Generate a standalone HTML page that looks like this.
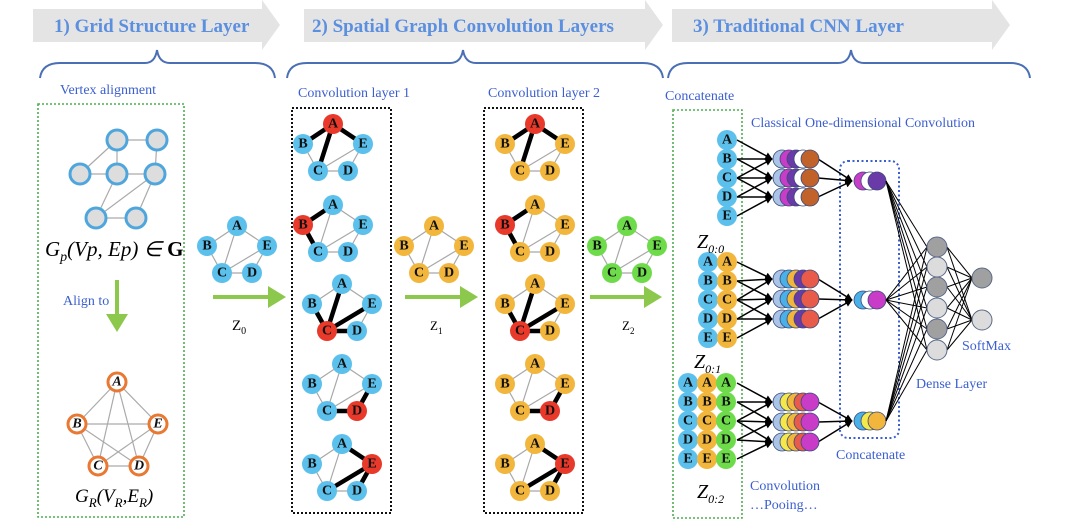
<!DOCTYPE html>
<html><head><meta charset="utf-8"><style>
body{margin:0;background:#fff}
svg{display:block;font-family:"Liberation Serif",serif}
.t{stroke:#a8a8a8;stroke-width:1.2}
.k{stroke:#000;stroke-width:4.5;stroke-linecap:round}
.b{fill:#5bc0ec}.y{fill:#f2b63c}.g{fill:#6edc4a}.r{fill:#e8392a}
.l{font-weight:bold;font-size:14px;text-anchor:middle;dominant-baseline:central;fill:#111}
.bl{fill:#3b5fd0;font-size:14px}
.a{stroke:#000;stroke-width:1.5;marker-end:url(#ah)}
.f{stroke:#000;stroke-width:1}
</style></head><body>
<svg width="1080" height="529" viewBox="0 0 1080 529" xmlns="http://www.w3.org/2000/svg">
<defs>
<marker id="ah" viewBox="0 0 10 10" refX="9" refY="5" markerWidth="5" markerHeight="5" orient="auto"><path d="M0,0L10,5L0,10z" fill="#000"/></marker>
<g id="ed">
<line class="t" x1="30" y1="0" x2="0" y2="20"/><line class="t" x1="30" y1="0" x2="60" y2="20"/><line class="t" x1="30" y1="0" x2="15" y2="47"/><line class="t" x1="0" y1="20" x2="15" y2="47"/><line class="t" x1="15" y1="47" x2="45" y2="47"/><line class="t" x1="15" y1="47" x2="60" y2="20"/><line class="t" x1="45" y1="47" x2="60" y2="20"/>
</g>
</defs>
<!-- header arrows -->
<polygon points="33,9 262,9 262,0 280,25 262,50 262,42 33,42" fill="#e4e4e4"/>
<polygon points="304,9 645,9 645,0 663,25 645,50 645,42 304,42" fill="#e4e4e4"/>
<polygon points="672,9 992,9 992,0 1010,25 992,50 992,42 672,42" fill="#e4e4e4"/>
<g font-weight="bold" font-size="19" fill="#5b8fe0">
<text x="54" y="32">1) Grid Structure Layer</text>
<text x="312" y="32">2) Spatial Graph Convolution Layers</text>
<text x="693" y="32">3) Traditional CNN Layer</text>
</g>
<!-- braces -->
<g fill="none" stroke="#4a6fb5" stroke-width="2">
<path d="M40,78 Q42,63 60,63 L145,63 Q155,63 157,50 Q159,63 170,63 L255,63 Q273,63 275,78"/>
<path d="M287,78 Q289,63 307,63 L450,63 Q461,63 463,50 Q465,63 476,63 L643,63 Q661,63 663,78"/>
<path d="M668,78 Q670,63 688,63 L838,63 Q849,63 851,50 Q853,63 864,63 L1010,63 Q1028,63 1030,78"/>
</g>
<!-- left box -->
<rect x="38" y="104" width="146" height="413" fill="none" stroke="#4caf50" stroke-width="1.6" stroke-dasharray="2,2"/>
<text class="bl" x="60" y="94">Vertex alignment</text>
<g stroke="#aaa" stroke-width="1.2">
<line x1="117" y1="140" x2="157" y2="140"/><line x1="117" y1="140" x2="80" y2="174"/><line x1="117" y1="140" x2="117" y2="174"/><line x1="157" y1="140" x2="155" y2="174"/><line x1="80" y1="174" x2="117" y2="174"/><line x1="117" y1="174" x2="155" y2="174"/><line x1="117" y1="174" x2="96" y2="218"/><line x1="155" y1="174" x2="96" y2="218"/><line x1="155" y1="174" x2="136" y2="218"/><line x1="96" y1="218" x2="136" y2="218"/>
</g>
<g fill="#ddd" stroke="#4ea6dc" stroke-width="3">
<circle cx="117" cy="140" r="10"/><circle cx="157" cy="140" r="10"/><circle cx="80" cy="174" r="10"/><circle cx="117" cy="174" r="10"/><circle cx="155" cy="174" r="10"/><circle cx="96" cy="218" r="10"/><circle cx="136" cy="218" r="10"/>
</g>
<text x="45" y="256" font-size="21" font-style="italic">G<tspan font-size="14" dy="5">p</tspan><tspan dy="-5">(Vp, Ep) ∈ </tspan><tspan font-weight="bold" font-style="normal">G</tspan></text>
<line x1="117" y1="280" x2="117" y2="318" stroke="#8cc84b" stroke-width="4"/>
<polygon points="106,314 128,314 117,332" fill="#8cc84b"/>
<text class="bl" x="63" y="305">Align to</text>
<g stroke="#aaa" stroke-width="1.2">
<line x1="117" y1="382" x2="77" y2="424"/><line x1="117" y1="382" x2="158" y2="424"/><line x1="117" y1="382" x2="98" y2="466"/><line x1="117" y1="382" x2="139" y2="466"/><line x1="77" y1="424" x2="158" y2="424"/><line x1="77" y1="424" x2="98" y2="466"/><line x1="77" y1="424" x2="139" y2="466"/><line x1="158" y1="424" x2="98" y2="466"/><line x1="158" y1="424" x2="139" y2="466"/><line x1="98" y1="466" x2="139" y2="466"/>
</g>
<g fill="#fff" stroke="#e87832" stroke-width="3">
<circle cx="117" cy="382" r="9"/><circle cx="77" cy="424" r="9"/><circle cx="158" cy="424" r="9"/><circle cx="98" cy="466" r="9"/><circle cx="139" cy="466" r="9"/>
</g>
<g class="l" font-style="italic" font-size="12">
<text class="l" x="117" y="382">A</text><text class="l" x="77" y="424">B</text><text class="l" x="158" y="424">E</text><text class="l" x="98" y="466">C</text><text class="l" x="139" y="466">D</text>
</g>
<text x="75" y="502" font-size="19" font-style="italic">G<tspan font-size="13" dy="5">R</tspan><tspan dy="-5">(V</tspan><tspan font-size="13" dy="5">R</tspan><tspan dy="-5">,E</tspan><tspan font-size="13" dy="5">R</tspan><tspan dy="-5">)</tspan></text>

<!-- Z0 graph -->
<g transform="translate(207,226)"><g style="--c:#5bc0ec"><use href="#ed" style="stroke:#5bc0ec"/></g>
<circle class="b" cx="30" cy="0" r="10"/><circle class="b" cx="0" cy="20" r="10"/><circle class="b" cx="60" cy="20" r="10"/><circle class="b" cx="15" cy="47" r="10"/><circle class="b" cx="45" cy="47" r="10"/>
<text class="l" x="30" y="0">A</text><text class="l" x="0" y="20">B</text><text class="l" x="60" y="20">E</text><text class="l" x="15" y="47">C</text><text class="l" x="45" y="47">D</text></g>
<line x1="213" y1="297" x2="272" y2="297" stroke="#8cc84b" stroke-width="4"/><polygon points="268,286 286,297 268,308" fill="#8cc84b"/>
<text x="232" y="330" font-size="15">Z<tspan font-size="10" dy="4">0</tspan></text>
<!-- Z1 graph -->
<g transform="translate(404,226)"><use href="#ed"/>
<circle class="y" cx="30" cy="0" r="10"/><circle class="y" cx="0" cy="20" r="10"/><circle class="y" cx="60" cy="20" r="10"/><circle class="y" cx="15" cy="47" r="10"/><circle class="y" cx="45" cy="47" r="10"/>
<text class="l" x="30" y="0">A</text><text class="l" x="0" y="20">B</text><text class="l" x="60" y="20">E</text><text class="l" x="15" y="47">C</text><text class="l" x="45" y="47">D</text></g>
<line x1="405" y1="297" x2="464" y2="297" stroke="#8cc84b" stroke-width="4"/><polygon points="460,286 478,297 460,308" fill="#8cc84b"/>
<text x="430" y="330" font-size="13">Z<tspan font-size="9" dy="4">1</tspan></text>
<!-- Z2 graph -->
<g transform="translate(597,226)"><use href="#ed"/>
<circle class="g" cx="30" cy="0" r="10"/><circle class="g" cx="0" cy="20" r="10"/><circle class="g" cx="60" cy="20" r="10"/><circle class="g" cx="15" cy="47" r="10"/><circle class="g" cx="45" cy="47" r="10"/>
<text class="l" x="30" y="0">A</text><text class="l" x="0" y="20">B</text><text class="l" x="60" y="20">E</text><text class="l" x="15" y="47">C</text><text class="l" x="45" y="47">D</text></g>
<line x1="590" y1="297" x2="648" y2="297" stroke="#8cc84b" stroke-width="4"/><polygon points="644,286 662,297 644,308" fill="#8cc84b"/>
<text x="622" y="330" font-size="13">Z<tspan font-size="9" dy="4">2</tspan></text>

<!-- conv layer boxes -->
<rect x="292" y="108" width="99" height="405" fill="none" stroke="#111" stroke-width="2" stroke-dasharray="2,2"/>
<rect x="484" y="108" width="99" height="405" fill="none" stroke="#111" stroke-width="2" stroke-dasharray="2,2"/>
<text class="bl" x="298" y="97">Convolution layer 1</text>
<text class="bl" x="488" y="97">Convolution layer 2</text>

<!-- layer 1 graphs (blue) -->
<g transform="translate(303,124)"><use href="#ed"/><line class="k" x1="30" y1="0" x2="0" y2="20"/><line class="k" x1="30" y1="0" x2="60" y2="20"/><line class="k" x1="30" y1="0" x2="15" y2="47"/>
<circle class="r" cx="30" cy="0" r="10"/><circle class="b" cx="0" cy="20" r="10"/><circle class="b" cx="60" cy="20" r="10"/><circle class="b" cx="15" cy="47" r="10"/><circle class="b" cx="45" cy="47" r="10"/>
<text class="l" x="30" y="0">A</text><text class="l" x="0" y="20">B</text><text class="l" x="60" y="20">E</text><text class="l" x="15" y="47">C</text><text class="l" x="45" y="47">D</text></g>
<g transform="translate(303,205)"><use href="#ed"/><line class="k" x1="0" y1="20" x2="30" y2="0"/><line class="k" x1="0" y1="20" x2="15" y2="47"/>
<circle class="b" cx="30" cy="0" r="10"/><circle class="r" cx="0" cy="20" r="10"/><circle class="b" cx="60" cy="20" r="10"/><circle class="b" cx="15" cy="47" r="10"/><circle class="b" cx="45" cy="47" r="10"/>
<text class="l" x="30" y="0">A</text><text class="l" x="0" y="20">B</text><text class="l" x="60" y="20">E</text><text class="l" x="15" y="47">C</text><text class="l" x="45" y="47">D</text></g>
<g transform="translate(312,284)"><use href="#ed"/><line class="k" x1="15" y1="47" x2="30" y2="0"/><line class="k" x1="15" y1="47" x2="0" y2="20"/><line class="k" x1="15" y1="47" x2="45" y2="47"/><line class="k" x1="15" y1="47" x2="60" y2="20"/>
<circle class="b" cx="30" cy="0" r="10"/><circle class="b" cx="0" cy="20" r="10"/><circle class="b" cx="60" cy="20" r="10"/><circle class="r" cx="15" cy="47" r="10"/><circle class="b" cx="45" cy="47" r="10"/>
<text class="l" x="30" y="0">A</text><text class="l" x="0" y="20">B</text><text class="l" x="60" y="20">E</text><text class="l" x="15" y="47">C</text><text class="l" x="45" y="47">D</text></g>
<g transform="translate(312,364)"><use href="#ed"/><line class="k" x1="45" y1="47" x2="15" y2="47"/><line class="k" x1="45" y1="47" x2="60" y2="20"/>
<circle class="b" cx="30" cy="0" r="10"/><circle class="b" cx="0" cy="20" r="10"/><circle class="b" cx="60" cy="20" r="10"/><circle class="b" cx="15" cy="47" r="10"/><circle class="r" cx="45" cy="47" r="10"/>
<text class="l" x="30" y="0">A</text><text class="l" x="0" y="20">B</text><text class="l" x="60" y="20">E</text><text class="l" x="15" y="47">C</text><text class="l" x="45" y="47">D</text></g>
<g transform="translate(312,444)"><use href="#ed"/><line class="k" x1="60" y1="20" x2="30" y2="0"/><line class="k" x1="60" y1="20" x2="15" y2="47"/><line class="k" x1="60" y1="20" x2="45" y2="47"/>
<circle class="b" cx="30" cy="0" r="10"/><circle class="b" cx="0" cy="20" r="10"/><circle class="r" cx="60" cy="20" r="10"/><circle class="b" cx="15" cy="47" r="10"/><circle class="b" cx="45" cy="47" r="10"/>
<text class="l" x="30" y="0">A</text><text class="l" x="0" y="20">B</text><text class="l" x="60" y="20">E</text><text class="l" x="15" y="47">C</text><text class="l" x="45" y="47">D</text></g>

<!-- layer 2 graphs (yellow) -->
<g transform="translate(505,124)"><use href="#ed"/><line class="k" x1="30" y1="0" x2="0" y2="20"/><line class="k" x1="30" y1="0" x2="60" y2="20"/><line class="k" x1="30" y1="0" x2="15" y2="47"/>
<circle class="r" cx="30" cy="0" r="10"/><circle class="y" cx="0" cy="20" r="10"/><circle class="y" cx="60" cy="20" r="10"/><circle class="y" cx="15" cy="47" r="10"/><circle class="y" cx="45" cy="47" r="10"/>
<text class="l" x="30" y="0">A</text><text class="l" x="0" y="20">B</text><text class="l" x="60" y="20">E</text><text class="l" x="15" y="47">C</text><text class="l" x="45" y="47">D</text></g>
<g transform="translate(505,205)"><use href="#ed"/><line class="k" x1="0" y1="20" x2="30" y2="0"/><line class="k" x1="0" y1="20" x2="15" y2="47"/>
<circle class="y" cx="30" cy="0" r="10"/><circle class="r" cx="0" cy="20" r="10"/><circle class="y" cx="60" cy="20" r="10"/><circle class="y" cx="15" cy="47" r="10"/><circle class="y" cx="45" cy="47" r="10"/>
<text class="l" x="30" y="0">A</text><text class="l" x="0" y="20">B</text><text class="l" x="60" y="20">E</text><text class="l" x="15" y="47">C</text><text class="l" x="45" y="47">D</text></g>
<g transform="translate(505,284)"><use href="#ed"/><line class="k" x1="15" y1="47" x2="30" y2="0"/><line class="k" x1="15" y1="47" x2="0" y2="20"/><line class="k" x1="15" y1="47" x2="45" y2="47"/><line class="k" x1="15" y1="47" x2="60" y2="20"/>
<circle class="y" cx="30" cy="0" r="10"/><circle class="y" cx="0" cy="20" r="10"/><circle class="y" cx="60" cy="20" r="10"/><circle class="r" cx="15" cy="47" r="10"/><circle class="y" cx="45" cy="47" r="10"/>
<text class="l" x="30" y="0">A</text><text class="l" x="0" y="20">B</text><text class="l" x="60" y="20">E</text><text class="l" x="15" y="47">C</text><text class="l" x="45" y="47">D</text></g>
<g transform="translate(505,364)"><use href="#ed"/><line class="k" x1="45" y1="47" x2="15" y2="47"/><line class="k" x1="45" y1="47" x2="60" y2="20"/>
<circle class="y" cx="30" cy="0" r="10"/><circle class="y" cx="0" cy="20" r="10"/><circle class="y" cx="60" cy="20" r="10"/><circle class="y" cx="15" cy="47" r="10"/><circle class="r" cx="45" cy="47" r="10"/>
<text class="l" x="30" y="0">A</text><text class="l" x="0" y="20">B</text><text class="l" x="60" y="20">E</text><text class="l" x="15" y="47">C</text><text class="l" x="45" y="47">D</text></g>
<g transform="translate(505,444)"><use href="#ed"/><line class="k" x1="60" y1="20" x2="30" y2="0"/><line class="k" x1="60" y1="20" x2="15" y2="47"/><line class="k" x1="60" y1="20" x2="45" y2="47"/>
<circle class="y" cx="30" cy="0" r="10"/><circle class="y" cx="0" cy="20" r="10"/><circle class="r" cx="60" cy="20" r="10"/><circle class="y" cx="15" cy="47" r="10"/><circle class="y" cx="45" cy="47" r="10"/>
<text class="l" x="30" y="0">A</text><text class="l" x="0" y="20">B</text><text class="l" x="60" y="20">E</text><text class="l" x="15" y="47">C</text><text class="l" x="45" y="47">D</text></g>

<!-- CNN part -->
<rect x="673" y="110" width="69" height="408" fill="none" stroke="#4caf50" stroke-width="1.6" stroke-dasharray="2,2"/>
<text class="bl" x="665" y="100">Concatenate</text>
<text class="bl" x="751" y="127">Classical One-dimensional Convolution</text>
<rect x="840" y="161" width="59" height="277" rx="8" fill="none" stroke="#3b5fd0" stroke-width="2" stroke-dasharray="2,2.5"/>

<!-- group1 arrows -->
<g class="a">
<line x1="737" y1="140" x2="772" y2="159"/><line x1="737" y1="159" x2="772" y2="159"/><line x1="737" y1="178" x2="772" y2="159"/>
<line x1="737" y1="159" x2="772" y2="178"/><line x1="737" y1="178" x2="772" y2="178"/><line x1="737" y1="197" x2="772" y2="178"/>
<line x1="737" y1="178" x2="772" y2="197"/><line x1="737" y1="197" x2="772" y2="197"/><line x1="737" y1="216" x2="772" y2="197"/>
<line x1="737" y1="262" x2="772" y2="279"/><line x1="737" y1="281" x2="772" y2="279"/><line x1="737" y1="300" x2="772" y2="279"/>
<line x1="737" y1="281" x2="772" y2="299"/><line x1="737" y1="300" x2="772" y2="299"/><line x1="737" y1="319" x2="772" y2="299"/>
<line x1="737" y1="300" x2="772" y2="319"/><line x1="737" y1="319" x2="772" y2="319"/><line x1="737" y1="338" x2="772" y2="319"/>
<line x1="737" y1="383" x2="772" y2="402"/><line x1="737" y1="402" x2="772" y2="402"/><line x1="737" y1="421" x2="772" y2="402"/>
<line x1="737" y1="402" x2="772" y2="422"/><line x1="737" y1="421" x2="772" y2="422"/><line x1="737" y1="440" x2="772" y2="422"/>
<line x1="737" y1="421" x2="772" y2="442"/><line x1="737" y1="440" x2="772" y2="442"/><line x1="737" y1="459" x2="772" y2="442"/>
<line x1="818" y1="159" x2="852" y2="181"/><line x1="818" y1="178" x2="852" y2="181"/><line x1="818" y1="197" x2="852" y2="181"/>
<line x1="818" y1="279" x2="852" y2="300"/><line x1="818" y1="299" x2="852" y2="300"/><line x1="818" y1="319" x2="852" y2="300"/>
<line x1="818" y1="402" x2="852" y2="421"/><line x1="818" y1="422" x2="852" y2="421"/><line x1="818" y1="442" x2="852" y2="421"/>
</g>
<!-- inputs -->
<g>
<circle class="b" cx="727" cy="140" r="10"/><circle class="b" cx="727" cy="159" r="10"/><circle class="b" cx="727" cy="178" r="10"/><circle class="b" cx="727" cy="197" r="10"/><circle class="b" cx="727" cy="216" r="10"/>
<text class="l" x="727" y="140">A</text><text class="l" x="727" y="159">B</text><text class="l" x="727" y="178">C</text><text class="l" x="727" y="197">D</text><text class="l" x="727" y="216">E</text>
<circle class="b" cx="708" cy="262" r="10"/><circle class="b" cx="708" cy="281" r="10"/><circle class="b" cx="708" cy="300" r="10"/><circle class="b" cx="708" cy="319" r="10"/><circle class="b" cx="708" cy="338" r="10"/>
<circle class="y" cx="727" cy="262" r="10"/><circle class="y" cx="727" cy="281" r="10"/><circle class="y" cx="727" cy="300" r="10"/><circle class="y" cx="727" cy="319" r="10"/><circle class="y" cx="727" cy="338" r="10"/>
<text class="l" x="708" y="262">A</text><text class="l" x="708" y="281">B</text><text class="l" x="708" y="300">C</text><text class="l" x="708" y="319">D</text><text class="l" x="708" y="338">E</text>
<text class="l" x="727" y="262">A</text><text class="l" x="727" y="281">B</text><text class="l" x="727" y="300">C</text><text class="l" x="727" y="319">D</text><text class="l" x="727" y="338">E</text>
<circle class="b" cx="688" cy="383" r="10"/><circle class="b" cx="688" cy="402" r="10"/><circle class="b" cx="688" cy="421" r="10"/><circle class="b" cx="688" cy="440" r="10"/><circle class="b" cx="688" cy="459" r="10"/>
<circle class="y" cx="707" cy="383" r="10"/><circle class="y" cx="707" cy="402" r="10"/><circle class="y" cx="707" cy="421" r="10"/><circle class="y" cx="707" cy="440" r="10"/><circle class="y" cx="707" cy="459" r="10"/>
<circle class="g" cx="726" cy="383" r="10"/><circle class="g" cx="726" cy="402" r="10"/><circle class="g" cx="726" cy="421" r="10"/><circle class="g" cx="726" cy="440" r="10"/><circle class="g" cx="726" cy="459" r="10"/>
<text class="l" x="688" y="383">A</text><text class="l" x="688" y="402">B</text><text class="l" x="688" y="421">C</text><text class="l" x="688" y="440">D</text><text class="l" x="688" y="459">E</text>
<text class="l" x="707" y="383">A</text><text class="l" x="707" y="402">B</text><text class="l" x="707" y="421">C</text><text class="l" x="707" y="440">D</text><text class="l" x="707" y="459">E</text>
<text class="l" x="726" y="383">A</text><text class="l" x="726" y="402">B</text><text class="l" x="726" y="421">C</text><text class="l" x="726" y="440">D</text><text class="l" x="726" y="459">E</text>
</g>
<g font-style="italic" font-size="20">
<text x="697" y="248">Z<tspan font-size="12" dy="5">0:0</tspan></text>
<text x="694" y="368">Z<tspan font-size="12" dy="5">0:1</tspan></text>
<text x="697" y="498">Z<tspan font-size="12" dy="5">0:2</tspan></text>
</g>
<!-- conv feature rows -->
<g stroke="#3a4a7a" stroke-width="0.8">
<g id="r1"><circle cx="782" cy="159" r="9" fill="#a9c4e6"/><circle cx="789" cy="159" r="9" fill="#c83cc8"/><circle cx="796" cy="159" r="9" fill="#6a3aa8"/><circle cx="803" cy="159" r="9" fill="#fff"/><circle cx="810" cy="159" r="9" fill="#c0622a"/></g>
<g><circle cx="782" cy="178" r="9" fill="#a9c4e6"/><circle cx="789" cy="178" r="9" fill="#c83cc8"/><circle cx="796" cy="178" r="9" fill="#6a3aa8"/><circle cx="803" cy="178" r="9" fill="#fff"/><circle cx="810" cy="178" r="9" fill="#c0622a"/></g>
<g><circle cx="782" cy="197" r="9" fill="#a9c4e6"/><circle cx="789" cy="197" r="9" fill="#c83cc8"/><circle cx="796" cy="197" r="9" fill="#6a3aa8"/><circle cx="803" cy="197" r="9" fill="#fff"/><circle cx="810" cy="197" r="9" fill="#c0622a"/></g>
<g><circle cx="782" cy="279" r="9" fill="#a9c4e6"/><circle cx="789" cy="279" r="9" fill="#4ab0e8"/><circle cx="796" cy="279" r="9" fill="#f2b63c"/><circle cx="803" cy="279" r="9" fill="#6a3aa8"/><circle cx="810" cy="279" r="9" fill="#e85a4a"/></g>
<g><circle cx="782" cy="299" r="9" fill="#a9c4e6"/><circle cx="789" cy="299" r="9" fill="#4ab0e8"/><circle cx="796" cy="299" r="9" fill="#f2b63c"/><circle cx="803" cy="299" r="9" fill="#6a3aa8"/><circle cx="810" cy="299" r="9" fill="#e85a4a"/></g>
<g><circle cx="782" cy="319" r="9" fill="#a9c4e6"/><circle cx="789" cy="319" r="9" fill="#4ab0e8"/><circle cx="796" cy="319" r="9" fill="#f2b63c"/><circle cx="803" cy="319" r="9" fill="#6a3aa8"/><circle cx="810" cy="319" r="9" fill="#e85a4a"/></g>
<g><circle cx="782" cy="402" r="9" fill="#a9c4e6"/><circle cx="789" cy="402" r="9" fill="#f5e84a"/><circle cx="796" cy="402" r="9" fill="#f2b63c"/><circle cx="803" cy="402" r="9" fill="#e85a4a"/><circle cx="810" cy="402" r="9" fill="#c83cc8"/></g>
<g><circle cx="782" cy="422" r="9" fill="#a9c4e6"/><circle cx="789" cy="422" r="9" fill="#f5e84a"/><circle cx="796" cy="422" r="9" fill="#f2b63c"/><circle cx="803" cy="422" r="9" fill="#e85a4a"/><circle cx="810" cy="422" r="9" fill="#c83cc8"/></g>
<g><circle cx="782" cy="442" r="9" fill="#a9c4e6"/><circle cx="789" cy="442" r="9" fill="#f5e84a"/><circle cx="796" cy="442" r="9" fill="#f2b63c"/><circle cx="803" cy="442" r="9" fill="#e85a4a"/><circle cx="810" cy="442" r="9" fill="#c83cc8"/></g>
<circle cx="863" cy="181" r="9" fill="#c83cc8"/><circle cx="870" cy="181" r="9" fill="#fff"/><circle cx="877" cy="181" r="9" fill="#6a3aa8"/>
<circle cx="863" cy="300" r="9" fill="#4ab0e8"/><circle cx="870" cy="300" r="9" fill="#fff"/><circle cx="877" cy="300" r="9" fill="#c83cc8"/>
<circle cx="863" cy="421" r="9" fill="#4ab0e8"/><circle cx="870" cy="421" r="9" fill="#f5e84a"/><circle cx="877" cy="421" r="9" fill="#f2b63c"/>
</g>
<!-- fully connected -->
<g class="f">
<line x1="886" y1="181" x2="927" y2="247"/><line x1="886" y1="181" x2="927" y2="267"/><line x1="886" y1="181" x2="927" y2="287"/><line x1="886" y1="181" x2="927" y2="308"/><line x1="886" y1="181" x2="927" y2="329"/><line x1="886" y1="181" x2="927" y2="350"/>
<line x1="886" y1="300" x2="927" y2="247"/><line x1="886" y1="300" x2="927" y2="267"/><line x1="886" y1="300" x2="927" y2="287"/><line x1="886" y1="300" x2="927" y2="308"/><line x1="886" y1="300" x2="927" y2="329"/><line x1="886" y1="300" x2="927" y2="350"/>
<line x1="886" y1="421" x2="927" y2="247"/><line x1="886" y1="421" x2="927" y2="267"/><line x1="886" y1="421" x2="927" y2="287"/><line x1="886" y1="421" x2="927" y2="308"/><line x1="886" y1="421" x2="927" y2="329"/><line x1="886" y1="421" x2="927" y2="350"/>
<line x1="947" y1="247" x2="972" y2="278"/><line x1="947" y1="267" x2="972" y2="278"/><line x1="947" y1="287" x2="972" y2="278"/><line x1="947" y1="308" x2="972" y2="278"/><line x1="947" y1="329" x2="972" y2="278"/><line x1="947" y1="350" x2="972" y2="278"/>
<line x1="947" y1="247" x2="972" y2="320"/><line x1="947" y1="267" x2="972" y2="320"/><line x1="947" y1="287" x2="972" y2="320"/><line x1="947" y1="308" x2="972" y2="320"/><line x1="947" y1="329" x2="972" y2="320"/><line x1="947" y1="350" x2="972" y2="320"/>
</g>
<g stroke="#5a6a8a" stroke-width="1">
<circle cx="937" cy="247" r="10" fill="#a0a0a0"/><circle cx="937" cy="267" r="10" fill="#dcdcdc"/><circle cx="937" cy="287" r="10" fill="#a0a0a0"/><circle cx="937" cy="308" r="10" fill="#dcdcdc"/><circle cx="937" cy="329" r="10" fill="#a0a0a0"/><circle cx="937" cy="350" r="10" fill="#dcdcdc"/>
<circle cx="982" cy="278" r="10" fill="#a0a0a0"/><circle cx="982" cy="320" r="10" fill="#dcdcdc"/>
</g>
<text class="bl" x="962" y="350">SoftMax</text>
<text class="bl" x="916" y="388">Dense Layer</text>
<text class="bl" x="836" y="459">Concatenate</text>
<text class="bl" x="750" y="490">Convolution</text>
<text class="bl" x="750" y="509">…Pooing…</text>
</svg>
</body></html>
